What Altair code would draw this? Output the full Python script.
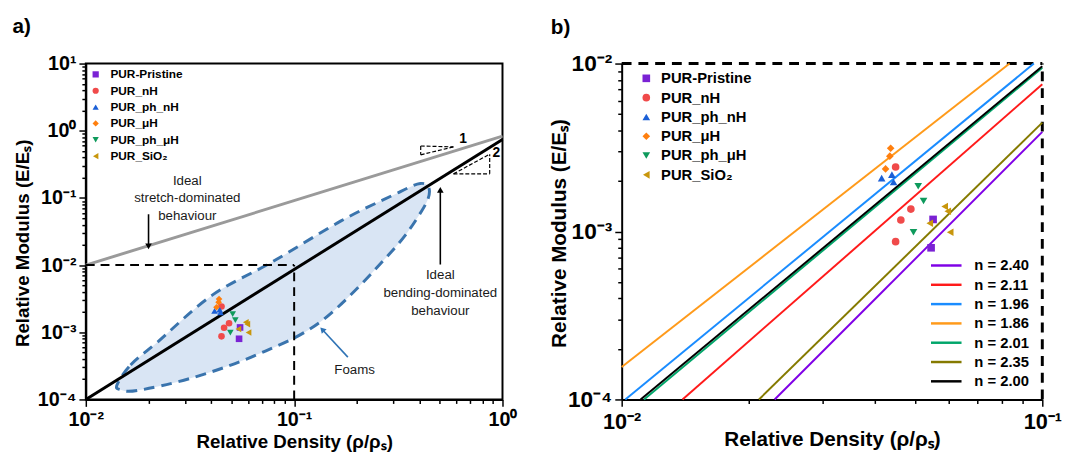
import altair as alt
import pandas as pd

FONT = "Liberation Sans"

# ---------------- data ----------------
series = ["PUR-Pristine", "PUR_nH", "PUR_ph_nH", "PUR_μH", "PUR_ph_μH", "PUR_SiO₂"]
series_colors = ["#7a22d4", "#f04a4a", "#1b5fd6", "#ff7f0e", "#0e9a5c", "#c8960c"]
series_shapes = ["square", "circle", "triangle-up", "diamond", "triangle-down", "triangle-left"]

density = [
    [0.0550, 0.0544],
    [0.0448, 0.0487, 0.0461, 0.0448],
    [0.0415, 0.0439, 0.0443],
    [0.0436, 0.0434, 0.0424],
    [0.0507, 0.0522, 0.0494],
    [0.0586, 0.0596, 0.0540, 0.0604],
]
modulus = [
    [0.00118, 0.00080],
    [0.00242, 0.00136, 0.00117, 0.00087],
    [0.00208, 0.00218, 0.00197],
    [0.00313, 0.00281, 0.00236],
    [0.00186, 0.00152, 0.00099],
    [0.00141, 0.00132, 0.00112, 0.00099],
]

fit_labels = ["n = 2.40", "n = 2.11", "n = 1.96", "n = 1.86", "n = 2.01", "n = 2.35", "n = 2.00"]
fit_colors = ["#7f00e6", "#ff1a1a", "#1a8cff", "#ff9a1a", "#00a66a", "#857a00", "#000000"]
fit_x0 = [0.0231, 0.01395, 0.0102, 0.0100, 0.0113, 0.0212, 0.01109]
fit_y0 = [1e-4, 1e-4, 1e-4, 1.56e-4, 1e-4, 1e-4, 1e-4]
fit_x1 = [0.1, 0.1, 0.0955, 0.0836, 0.1, 0.1, 0.1]
fit_y1 = [0.00392, 0.00753, 0.01, 0.01, 0.00943, 0.00445, 0.00965]

# panel a: ideal scaling lines
stretch_x = [0.01, 1.0]
stretch_y = [0.01, 0.83]
bending_x = [0.01, 1.0]
bending_y = [1e-4, 0.74]

# panel a: foam region outline
foam_x = [0.01413, 0.0164, 0.0221, 0.0403, 0.0791, 0.167, 0.293, 0.403,
          0.446, 0.410, 0.293, 0.136, 0.0655, 0.0321, 0.01766, 0.01466]
foam_y = [1.66e-4, 3.26e-4, 7.16e-4, 0.00354, 0.0113, 0.0451, 0.107, 0.164,
          0.127, 0.0646, 0.0158, 0.00149, 4.57e-4, 2.08e-4, 1.36e-4, 1.40e-4]

# panel a: dashed guides (x0, y0, x1, y1)
guide_x0 = [0.01, 0.1]
guide_y0 = [0.01, 1e-4]
guide_x1 = [0.1, 0.1]
guide_y1 = [0.01, 0.01]

# panel a: slope triangles
tri_x0 = [0.405, 0.405, 0.405, 0.582, 0.868, 0.582]
tri_y0 = [0.593, 0.593, 0.438, 0.228, 0.228, 0.228]
tri_x1 = [0.582, 0.405, 0.582, 0.868, 0.868, 0.868]
tri_y1 = [0.575, 0.438, 0.575, 0.228, 0.448, 0.448]
tri_label_x = [0.647, 0.934]
tri_label_y = [0.743, 0.458]
tri_label = ["1", "2"]

# panel a: annotation texts (anchored at first line)
note_x = [0.0307, 0.503, 0.195]
note_y = [0.18, 0.00704, 2.75e-4]
note_text = ["Ideal\nstretch-dominated\nbehaviour", "Ideal\nbending-dominated\nbehaviour", "Foams"]

# panel a: arrows (shaft start -> tip)
arrow_x0 = [0.02, 0.503, 0.181]
arrow_y0 = [0.0571, 0.0102, 4.27e-4]
arrow_x1 = [0.02, 0.503, 0.1364]
arrow_y1 = [0.0190, 0.132, 0.00110]
arrow_color = ["black", "black", "#2f73b5"]
arrow_head = ["triangle-down", "triangle-up", "triangle-up"]
arrow_angle = [0, 0, 317]

# ---------------- tables ----------------
pts = pd.DataFrame({
    "series": [s for s, xs in zip(series, density) for _ in xs],
    "x": [v for xs in density for v in xs],
    "y": [v for ys in modulus for v in ys],
})
fits = pd.DataFrame({
    "label": fit_labels * 2,
    "x": fit_x0 + fit_x1,
    "y": fit_y0 + fit_y1,
    "k": list(range(len(fit_labels))) * 2,
})

fill_scale = alt.Scale(domain=series, range=series_colors)
shape_scale = alt.Scale(domain=series, range=series_shapes)
fit_scale = alt.Scale(domain=fit_labels, range=fit_colors)

AW, AH = 423, 341
BW, BH = 427, 341

SUP = str.maketrans("-0123456789", "⁻⁰¹²³⁴⁵⁶⁷⁸⁹")


def log_axis(e0, e1, title, orient, fs, tfs, label_pad, title_pos):
    values = [k * 10.0 ** e for e in range(e0, e1) for k in range(1, 10)] + [10.0 ** e1]
    exps = list(range(e0, e1 + 1))
    decades = [10.0 ** e for e in exps]
    expr = "".join(
        f"datum.value == {d!r} ? '10{str(e).translate(SUP)}' : " for e, d in zip(exps, decades)
    ) + "''"
    test = "indexof([" + ",".join(repr(d) for d in decades) + "], datum.value) >= 0"
    if orient == "bottom":
        tpos = dict(titleY=title_pos, titleBaseline="alphabetic")
    else:
        tpos = dict(titleX=title_pos[0], titleY=title_pos[1], titleBaseline="middle")
    return alt.Axis(
        values=values, labelExpr=expr, title=title, grid=False, orient=orient,
        tickSize={"condition": {"test": test, "value": 7}, "value": 4},
        tickWidth=1.5, tickColor="black", domainColor="black", domainWidth=2,
        labelFont=FONT, labelFontSize=fs, labelFontWeight="bold", labelColor="black",
        titleFont=FONT, titleFontSize=tfs, titleFontWeight="bold", titleColor="black",
        labelPadding=label_pad, labelOverlap=False, labelFlush=False, **tpos,
    )


def px(field):
    return alt.X(field, type="quantitative", scale=None, axis=None)


def py(field):
    return alt.Y(field, type="quantitative", scale=None, axis=None)


def panel(xdom, ydom, xaxis, yaxis, sym_size, leg, label, extra_layers, w, h):
    xs = alt.Scale(type="log", domain=xdom)
    ys = alt.Scale(type="log", domain=ydom)

    def X(f):
        return alt.X(f, type="quantitative", scale=xs, axis=xaxis)

    def Y(f):
        return alt.Y(f, type="quantitative", scale=ys, axis=yaxis)

    layers = [f(X, Y) for f in extra_layers]

    points = alt.Chart(pts).mark_point(filled=True, size=sym_size, opacity=1).encode(
        x=X("x"), y=Y("y"),
        fill=alt.Fill("series:N", scale=fill_scale, legend=None),
        shape=alt.Shape("series:N", scale=shape_scale, legend=None),
    )
    layers.append(points)

    lx, ly, step, fs, msize = leg
    legdf = pd.DataFrame({"series": series})
    legdf["py"] = [ly + step * i for i in range(len(series))]
    legdf["px"] = lx
    legdf["tx"] = lx + 15
    layers.append(alt.Chart(legdf).mark_point(filled=True, size=msize, opacity=1).encode(
        x=px("px"), y=py("py"),
        fill=alt.Fill("series:N", scale=fill_scale, legend=None),
        shape=alt.Shape("series:N", scale=shape_scale, legend=None),
    ))
    layers.append(alt.Chart(legdf).mark_text(
        align="left", baseline="middle", font=FONT, fontSize=fs, fontWeight="bold", color="black"
    ).encode(x=px("tx"), y=py("py"), text="series:N"))

    lab = pd.DataFrame({"t": [label[0]]})
    layers.append(alt.Chart(lab).mark_text(
        align="center", baseline="middle", font=FONT, fontSize=21, fontWeight="bold", color="black"
    ).encode(x=alt.value(label[1]), y=alt.value(label[2]), text="t:N"))
    return alt.layer(*layers).properties(width=w, height=h)


# ---- panel a extra layers ----
def a_foam(X, Y):
    df = pd.DataFrame({"x": foam_x, "y": foam_y, "i": list(range(len(foam_x)))})
    return alt.Chart(df).mark_line(
        interpolate="cardinal-closed", fill="#d9e5f4", stroke="#3a74ad",
        strokeWidth=3, strokeDash=[11, 7]
    ).encode(x=X("x"), y=Y("y"), order="i:Q")


def a_stretch(X, Y):
    df = pd.DataFrame({"x": stretch_x, "y": stretch_y})
    return alt.Chart(df).mark_line(color="#9a9a9a", strokeWidth=3).encode(x=X("x"), y=Y("y"))


def a_bending(X, Y):
    df = pd.DataFrame({"x": bending_x, "y": bending_y})
    return alt.Chart(df).mark_line(color="black", strokeWidth=3).encode(x=X("x"), y=Y("y"))


def a_guides(X, Y):
    df = pd.DataFrame({"x0": guide_x0, "y0": guide_y0, "x1": guide_x1, "y1": guide_y1})
    return alt.Chart(df).mark_rule(color="black", strokeWidth=2, strokeDash=[9, 6]).encode(
        x=X("x0"), y=Y("y0"), x2="x1", y2="y1")


def a_triangles(X, Y):
    df = pd.DataFrame({"x0": tri_x0, "y0": tri_y0, "x1": tri_x1, "y1": tri_y1})
    return alt.Chart(df).mark_rule(color="black", strokeWidth=1.2, strokeDash=[4, 2]).encode(
        x=X("x0"), y=Y("y0"), x2="x1", y2="y1")


def a_tri_labels(X, Y):
    df = pd.DataFrame({"x": tri_label_x, "y": tri_label_y, "t": tri_label})
    return alt.Chart(df).mark_text(font=FONT, fontSize=14, fontWeight="bold", color="black").encode(
        x=X("x"), y=Y("y"), text="t:N")


def a_notes(X, Y):
    df = pd.DataFrame({"x": note_x, "y": note_y, "t": note_text})
    return alt.Chart(df).mark_text(
        font=FONT, fontSize=13.5, color="#1a1a1a", lineBreak="\n", lineHeight=18,
        align="center", baseline="middle"
    ).encode(x=X("x"), y=Y("y"), text="t:N")


def a_arrows(X, Y):
    df = pd.DataFrame({"x0": arrow_x0, "y0": arrow_y0, "x1": arrow_x1, "y1": arrow_y1,
                       "c": arrow_color, "s": arrow_head, "a": arrow_angle})
    shaft = alt.Chart(df).mark_rule(strokeWidth=1.6).encode(
        x=X("x0"), y=Y("y0"), x2="x1", y2="y1", color=alt.Color("c:N", scale=None))
    head = alt.Chart(df).mark_point(filled=True, size=45, opacity=1).encode(
        x=X("x1"), y=Y("y1"), fill=alt.Fill("c:N", scale=None),
        shape=alt.Shape("s:N", scale=None), angle=alt.Angle("a:Q", scale=None))
    return alt.layer(shaft, head)


panel_a = panel(
    [0.01, 1], [1e-4, 10],
    log_axis(-2, 0, "Relative Density (ρ/ρₛ)", "bottom", 20, 19, 3, 49),
    log_axis(-4, 1, "Relative Modulus (E/Eₛ)", "left", 20, 19, 3, (-64, 182)),
    45, (10, 11, 16.6, 12, 40), ("a)", -65, -37),
    [a_foam, a_stretch, a_bending, a_guides, a_triangles, a_tri_labels, a_notes, a_arrows],
    AW, AH,
).properties(view=alt.ViewBackground(stroke="black", strokeWidth=2))


# ---- panel b extra layers ----
def b_border(X, Y):
    df = pd.DataFrame({"x0": [0.01, 0.1], "y0": [0.01, 1e-4], "x1": [0.1, 0.1], "y1": [0.01, 0.01]})
    return alt.Chart(df).mark_rule(color="black", strokeWidth=3, strokeDash=[10, 7]).encode(
        x=X("x0"), y=Y("y0"), x2="x1", y2="y1")


def b_fits(X, Y):
    return alt.Chart(fits).mark_line(strokeWidth=2).encode(
        x=X("x"), y=Y("y"), detail="k:Q",
        stroke=alt.Stroke("label:N", scale=fit_scale, legend=None),
        order="k:Q")


def b_fit_legend(X, Y):
    df = pd.DataFrame({"label": fit_labels})
    df["py"] = [205 + 19.6 * i for i in range(len(fit_labels))]
    df["x0"] = 314
    df["x1"] = 345
    df["tx"] = 358
    rule = alt.Chart(df).mark_rule(strokeWidth=2.5).encode(
        x=px("x0"), x2="x1", y=py("py"),
        stroke=alt.Stroke("label:N", scale=fit_scale, legend=None))
    txt = alt.Chart(df).mark_text(
        align="left", baseline="middle", font=FONT, fontSize=15, fontWeight="bold", color="black"
    ).encode(x=px("tx"), y=py("py"), text="label:N")
    return alt.layer(rule, txt)


panel_b = panel(
    [0.01, 0.1], [1e-4, 0.01],
    log_axis(-2, -1, "Relative Density (ρ/ρₛ)", "bottom", 22, 21, 5, 47),
    log_axis(-4, -2, "Relative Modulus (E/Eₛ)", "left", 23, 21, 3, (-63, 172)),
    60, (25, 15, 19.6, 15, 60), ("b)", -62, -36),
    [b_border, b_fits, b_fit_legend],
    BW, BH,
)

chart = alt.hconcat(panel_a, panel_b, spacing=31).resolve_scale(
    x="independent", y="independent"
).properties(
    padding={"left": 3, "top": 4, "right": 0, "bottom": 0}
).configure_view(strokeWidth=0)

chart.save("out.html", embed_options={"renderer": "svg", "actions": False})
